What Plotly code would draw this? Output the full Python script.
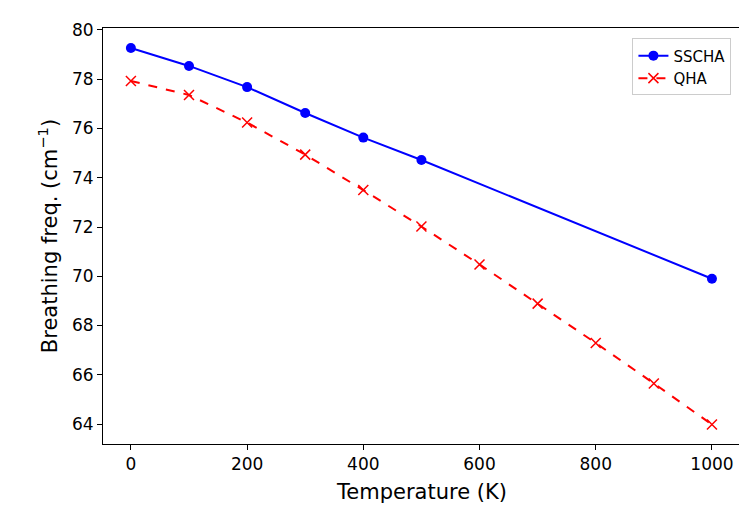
import plotly.graph_objects as go

t_sscha = [0, 100, 200, 300, 400, 500, 1000]
f_sscha = [79.27, 78.54, 77.68, 76.63, 75.63, 74.72, 69.9]
t_qha = [0, 100, 200, 300, 400, 500, 600, 700, 800, 900, 1000]
f_qha = [77.93, 77.36, 76.24, 74.94, 73.5, 72.02, 70.48, 68.89, 67.29, 65.65, 63.98]

fig = go.Figure()
fig.add_trace(go.Scatter(x=t_sscha, y=f_sscha, name="SSCHA", mode="lines+markers",
                         line=dict(color="blue", width=2), marker=dict(size=10, color="blue")))
fig.add_trace(go.Scatter(x=t_qha, y=f_qha, name="QHA", mode="lines+markers",
                         line=dict(color="red", width=2, dash="dash"),
                         marker=dict(symbol="x-thin", size=10, line=dict(color="red", width=1.5), color="red")))
ax = dict(showline=True, mirror=True, linecolor="black", linewidth=1, ticks="outside",
          ticklen=5, tickcolor="black", showgrid=False, zeroline=False, automargin=False,
          tickfont=dict(size=17, color="black"))
fig.update_layout(
    width=747, height=519, plot_bgcolor="white", paper_bgcolor="white",
    margin=dict(l=95, r=14, t=20, b=83),
    font=dict(family="DejaVu Sans", color="black"),
    xaxis=dict(ax, range=[-48, 1050], tickvals=[0, 200, 400, 600, 800, 1000],
               title=dict(text="Temperature (K)", font=dict(size=21), standoff=10)),
    yaxis=dict(ax, range=[63.19, 80.08], tickvals=list(range(64, 81, 2)),
               title=dict(text="Breathing freq. (cm<sup>−1</sup>)", font=dict(size=21), standoff=8)),
    legend=dict(x=0.985, y=0.975, xanchor="right", yanchor="top", bordercolor="#ccc",
                borderwidth=1, font=dict(size=15), bgcolor="white"),
)
fig.write_html("out.html")
